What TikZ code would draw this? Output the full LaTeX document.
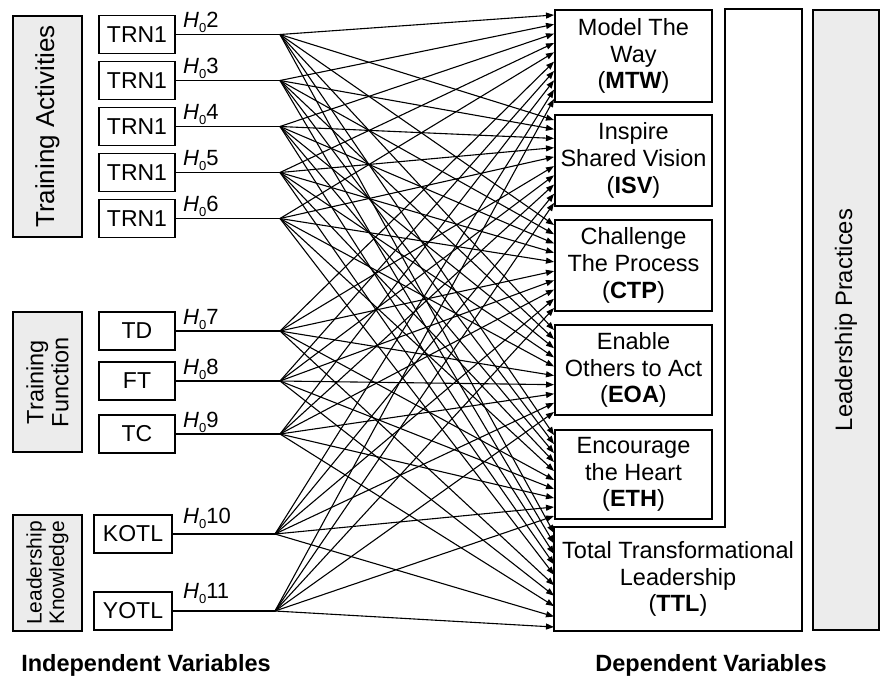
\documentclass[tikz,border=0pt]{standalone}
\usepackage{fontspec}
\setmainfont{Liberation Sans}
\usetikzlibrary{arrows.meta}

% hypothesis label H_0 n
\newcommand{\hnull}[1]{\textit{H}\raisebox{-5pt}{\fontsize{13}{13}\selectfont 0}#1}

\begin{document}
\begin{tikzpicture}[
		x=1pt, y=-1pt,
		box/.style={draw, line width=1.6pt, align=center},
		src/.style={box, minimum width=76pt, minimum height=38pt, font=\fontsize{23}{26}\selectfont},
		tgt/.style={box, anchor=north west, minimum width=157.4pt, font=\fontsize{23.5}{26.7}\selectfont},
		group/.style={box, fill=gray!15, rotate=90, minimum height=69.4pt},
		hyp/.style={anchor=base west, inner sep=0pt, font=\fontsize{22}{22}\selectfont},
		link/.style={line width=1.1pt},
		arr/.style={link, -{Triangle[length=8pt, width=6pt]}},
		caption/.style={anchor=base, font=\fontsize{23.5}{26}\selectfont\bfseries}
	]
  \useasboundingbox (0,0) rectangle (882,678);

  % groups of independent variables
  \node (acts) [group, minimum width=221.4pt, font=\fontsize{26}{28}\selectfont] at (47.5, 126.5) {Training Activities};
  \node (func) [group, minimum width=140.4pt, font=\fontsize{23.5}{25}\selectfont] at (47.5, 382) {Training\\Function};
  \node (know) [group, minimum width=116.4pt, font=\fontsize{21}{22.5}\selectfont] at (47.5, 573) {Leadership\\Knowledge};

  % independent variables
  \node (trn_2) [src] at (137, 34.5) {TRN1};
  \node (trn_3) [src] at (137, 80.5) {TRN1};
  \node (trn_4) [src] at (137, 126.5) {TRN1};
  \node (trn_5) [src] at (137, 172.5) {TRN1};
  \node (trn_6) [src] at (137, 218.5) {TRN1};
  \node (td_7) [src] at (137, 331) {TD};
  \node (ft_8) [src] at (137, 381) {FT};
  \node (tc_9) [src] at (137, 434) {TC};
  \node (kotl_10) [src, minimum width=78.4pt] at (133, 534) {KOTL};
  \node (yotl_11) [src, minimum width=78.4pt] at (133, 611) {YOTL};

  % branch points
  \coordinate (h_2) at (280, 34.5);
  \coordinate (h_3) at (280, 80.5);
  \coordinate (h_4) at (280, 126.5);
  \coordinate (h_5) at (280, 172.5);
  \coordinate (h_6) at (280, 218.5);
  \coordinate (h_7) at (280, 331);
  \coordinate (h_8) at (280, 381);
  \coordinate (h_9) at (280, 434);
  \coordinate (h_10) at (275, 534);
  \coordinate (h_11) at (275, 611);

  \draw[link] (trn_2) -- (h_2);
  \draw[link] (trn_3) -- (h_3);
  \draw[link] (trn_4) -- (h_4);
  \draw[link] (trn_5) -- (h_5);
  \draw[link] (trn_6) -- (h_6);
  \draw[link] (td_7) -- (h_7);
  \draw[link] (ft_8) -- (h_8);
  \draw[link] (tc_9) -- (h_9);
  \draw[link] (kotl_10) -- (h_10);
  \draw[link] (yotl_11) -- (h_11);

  % hypotheses
  \node (lab_2) [hyp] at (183, 27.5) {\hnull{2}};
  \node (lab_3) [hyp] at (183, 73.5) {\hnull{3}};
  \node (lab_4) [hyp] at (183, 119.5) {\hnull{4}};
  \node (lab_5) [hyp] at (183, 165.5) {\hnull{5}};
  \node (lab_6) [hyp] at (183, 211.5) {\hnull{6}};
  \node (lab_7) [hyp] at (183, 324) {\hnull{7}};
  \node (lab_8) [hyp] at (183, 374) {\hnull{8}};
  \node (lab_9) [hyp] at (183, 427) {\hnull{9}};
  \node (lab_10) [hyp] at (183, 523) {\hnull{10}};
  \node (lab_11) [hyp] at (183, 598) {\hnull{11}};

  % dependent variables
  \node (mtw) [tgt, minimum height=92.4pt] at (554, 9) {Model The\\Way\\(\textbf{MTW})};
  \node (isv) [tgt, minimum height=91.4pt] at (554, 114) {Inspire\\Shared Vision\\(\textbf{ISV})};
  \node (ctp) [tgt, minimum height=91.4pt] at (554, 219) {Challenge\\The Process\\(\textbf{CTP})};
  \node (eoa) [tgt, minimum height=90.4pt] at (554, 324) {Enable\\Others to Act\\(\textbf{EOA})};
  \node (eth) [tgt, minimum height=89.4pt] at (554, 429) {Encourage\\the Heart\\(\textbf{ETH})};
  \node (ttl) [tgt, draw=none, minimum width=246.4pt, minimum height=102.4pt] at (554, 527) {Total Transformational\\Leadership\\(\textbf{TTL})};
  \draw[box] (ttl.north west) -- (725, 527) -- (725, 9) -- (802, 9) -- (ttl.south east) -- (ttl.south west) -- cycle;

  \node (prac) [group, minimum width=620.4pt, minimum height=66.4pt, font=\fontsize{23.8}{26}\selectfont] at (846, 320) {Leadership Practices};

  % every hypothesis points at every practice
  \foreach \tg/\hgt in {mtw/94, isv/93, ctp/93, eoa/92, eth/91, ttl/104}
    \foreach \n [count=\k from 0] in {2,...,11} {
      \pgfmathsetmacro\dy{6+\k*(\hgt-10)/9}
      \draw[arr] (h_\n) -- ([yshift=-\dy pt]\tg.north west);
    }

  \node (indep) [caption] at (146, 671) {Independent Variables};
  \node (dep) [caption] at (711, 671) {Dependent Variables};
\end{tikzpicture}
\end{document}
